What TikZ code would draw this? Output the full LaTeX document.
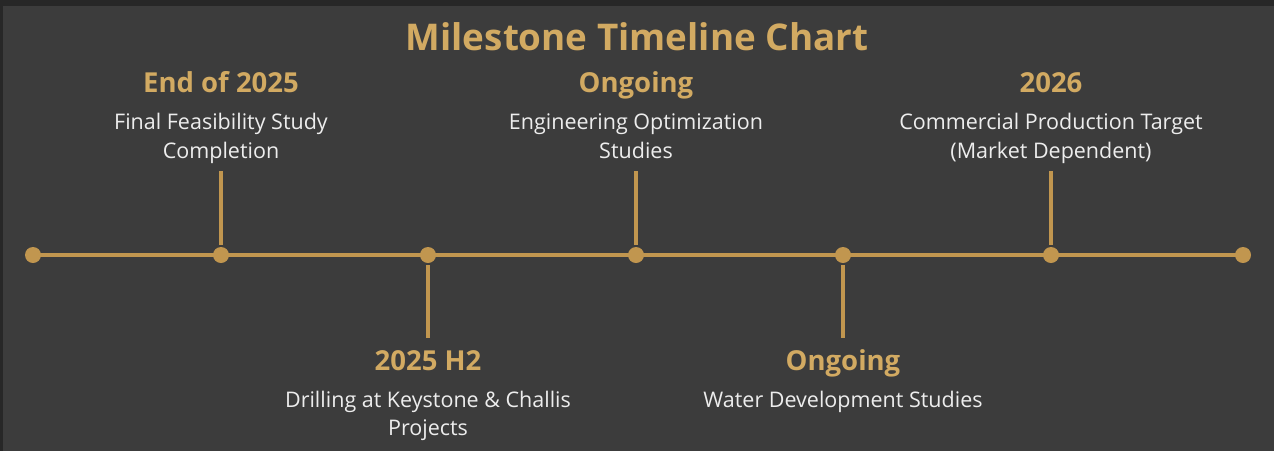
\documentclass[tikz,border=0pt]{standalone}
\usepackage{fontspec}
\setmainfont{Open Sans}
\usepackage{tikz}
\usetikzlibrary{shapes}
\usepackage{xcolor}
\definecolor{bgdark}{HTML}{272727}
\definecolor{bggray}{HTML}{3C3C3C}
\definecolor{gold}{HTML}{D2AA62}
\definecolor{goldline}{HTML}{C1964F}
\definecolor{paper}{HTML}{EDEDED}
\tikzset{
	main node/.style={circle,fill=goldline,inner sep=0pt,minimum size=16pt},
	head node/.style={font=\bfseries\fontsize{27.5}{30}\selectfont,text=gold,anchor=base,inner sep=0pt},
	desc node/.style={font=\fontsize{21.5}{28.5}\selectfont,text=paper,align=center,anchor=base,inner sep=0pt}
}

\begin{document}
\begin{tikzpicture}[x=1pt,y=-1pt
				    ,line width=4pt
				    ,stem/.style={draw=goldline}
					]
				    \useasboundingbox (0,0) rectangle (1274,451);
				    \fill[bgdark] (0,0) rectangle (1274,451);
				    \fill[bggray] (3,6) rectangle (1274,451);
				    \node [font=\bfseries\fontsize{36.8}{40}\selectfont,text=gold,anchor=base,inner sep=0pt] (title) at (637,50.5) {Milestone Timeline Chart};
				    % time axis
				    \node [main node] (1) at (33,255) {};
				    \node [main node] (2) at (221,255) {};
				    \node [main node] (3) at (428,255) {};
				    \node [main node] (4) at (636,255) {};
				    \node [main node] (5) at (843,255) {};
				    \node [main node] (6) at (1051,255) {};
				    \node [main node] (7) at (1243,255) {};
				    \draw [stem] (1.center) -- (7.center);
				    \coordinate (2t) at (221,171);
				    \coordinate (3b) at (428,338);
				    \coordinate (4t) at (636,171);
				    \coordinate (5b) at (843,338);
				    \coordinate (6t) at (1051,171);
				    \draw [stem] (2) -- (2t);
				    \draw [stem] (3) -- (3b);
				    \draw [stem] (4) -- (4t);
				    \draw [stem] (5) -- (5b);
				    \draw [stem] (6) -- (6t);
				    % milestones (base of a two-line text is its last line)
				    \node [head node] (h2) at (221,92.5) {End of 2025};
				    \node [desc node] (d2) at (221,158) {Final Feasibility Study\\Completion};
				    \node [head node] (h3) at (428,370) {2025 H2};
				    \node [desc node] (d3) at (428,435.5) {Drilling at Keystone \& Challis\\Projects};
				    \node [head node] (h4) at (636,92.5) {Ongoing};
				    \node [desc node] (d4) at (636,158) {Engineering Optimization\\Studies};
				    \node [head node] (h5) at (843,370) {Ongoing};
				    \node [desc node] (d5) at (843,407) {Water Development Studies};
				    \node [head node] (h6) at (1051,92.5) {2026};
				    \node [desc node] (d6) at (1051,158) {Commercial Production Target\\(Market Dependent)};
				  \end{tikzpicture}
\end{document}
